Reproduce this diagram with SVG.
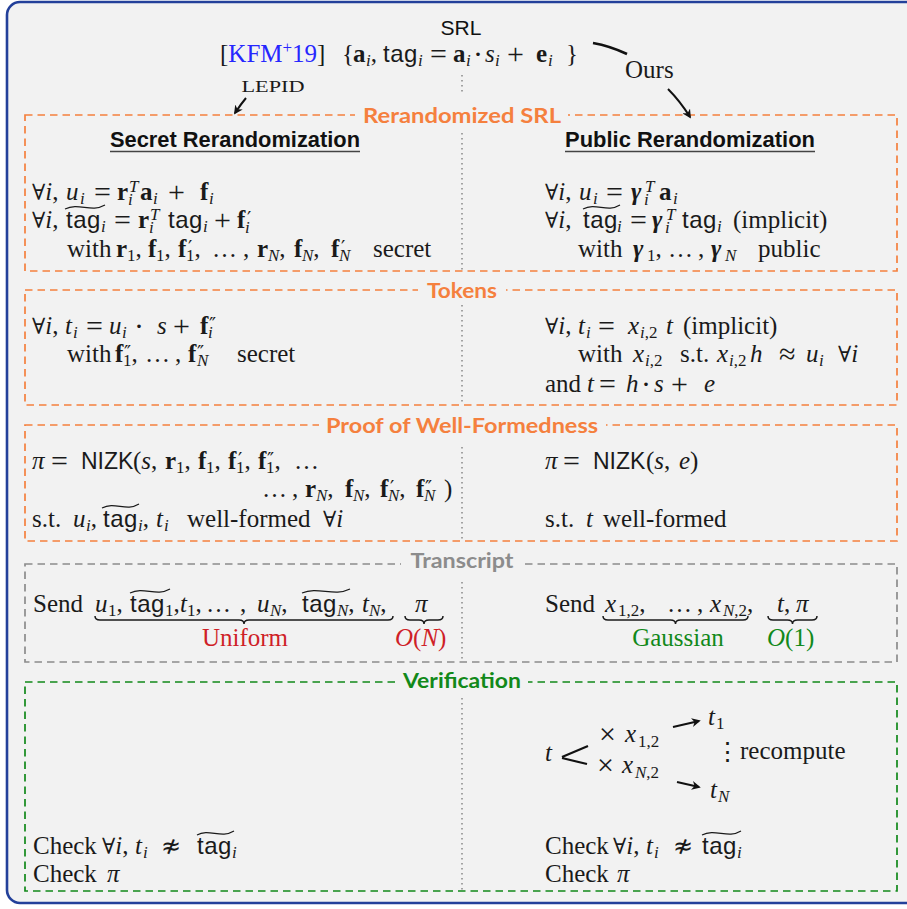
<svg xmlns="http://www.w3.org/2000/svg" width="907" height="909" viewBox="0 0 907 909">
<style>
.m{font-family:"Liberation Serif","DejaVu Serif",serif;font-size:25px;fill:#1a1a1a}
.i{font-style:italic}
.b{font-weight:bold}
.bi{font-weight:bold;font-style:italic}
.sf{font-family:"Liberation Sans",sans-serif;font-size:24px;letter-spacing:0.5px;font-style:normal;font-weight:normal}
.nz{font-family:"Liberation Sans",sans-serif;font-size:23px;font-style:normal}
.s{font-size:17px}
.op{font-family:"Liberation Serif","DejaVu Serif",serif;font-size:30px;font-style:normal;font-weight:normal}
.fa{font-family:"DejaVu Serif",serif;font-size:22px;font-style:normal;font-weight:normal}
.ne{font-family:"DejaVu Sans",sans-serif;font-size:24px}
.pr{font-family:"DejaVu Sans",sans-serif;font-size:19px;font-style:normal;font-weight:normal}
.hd{font-family:"Liberation Sans",sans-serif;font-weight:bold;font-size:21.5px;fill:#111}
.lab{font-family:Lato,"Liberation Sans",sans-serif;font-weight:bold;font-size:21px;text-anchor:middle}
.box{fill:none;stroke-width:1.7;stroke-dasharray:7.5 5}
.or{stroke:#f5803e}
.gr{stroke:#8c8c8c}
.gn{stroke:#12891a}
.bg{fill:#f2f2f2}
.dot{stroke:#9a9a9a;stroke-width:1.8;stroke-dasharray:1.6 3.4;fill:none}
.tl{fill:none;stroke:#1a1a1a;stroke-width:1.2}
.br{fill:none;stroke:#1a1a1a;stroke-width:1.5}
.ar{fill:none;stroke:#111;stroke-width:2}
.red{fill:#cf1f28}
.grn{fill:#12891a}
</style>
<defs>
<marker id="ah" viewBox="0 0 10 10" refX="8" refY="5" markerWidth="9" markerHeight="9" markerUnits="userSpaceOnUse" orient="auto">
<path d="M0,0 L10,5 L0,10 L3,5 z" fill="#111"/>
</marker>
</defs>
<rect x="0" y="0" width="907" height="909" fill="#ffffff"/>
<rect id="frame" x="7" y="2" width="912" height="901" rx="13" fill="#f2f2f2" stroke="#23409a" stroke-width="2.6"/>

<g id="dotted-divider">
<line class="dot" x1="462" y1="75" x2="462" y2="93"/>
<line class="dot" x1="462" y1="133" x2="462" y2="271"/>
<line class="dot" x1="462" y1="305" x2="462" y2="405"/>
<line class="dot" x1="462" y1="447" x2="462" y2="541"/>
<line class="dot" x1="462" y1="582" x2="462" y2="662"/>
<line class="dot" x1="462" y1="698" x2="462" y2="890"/>
</g>

<g id="header">
<text x="461" y="35" font-family="Liberation Sans,sans-serif" font-size="21" fill="#111" text-anchor="middle">SRL</text>
<text class="m">
<tspan x="342" y="62">{</tspan><tspan x="353" y="62" class="b">a</tspan><tspan x="366" y="66" class="i s">i</tspan><tspan y="62">,</tspan>
<tspan x="383" y="62" class="sf">tag</tspan><tspan x="418" y="66" class="i s">i</tspan>
<tspan x="430" y="64" class="op">=</tspan><tspan x="453" y="62" class="b">a</tspan><tspan x="466" y="66" class="i s">i</tspan>
<tspan x="473" y="64" class="op">·</tspan><tspan x="485" y="62" class="i">s</tspan><tspan x="495" y="66" class="i s">i</tspan>
<tspan x="507" y="64" class="op">+</tspan><tspan x="536" y="62" class="b">e</tspan><tspan x="548" y="66" class="i s">i</tspan><tspan x="566" y="62">}</tspan>
</text>
</g>

<g id="lepid">
<text class="m" x="220" y="62">[<tspan fill="#2626ff">KFM</tspan><tspan fill="#2626ff" font-size="17" y="53">+</tspan><tspan fill="#2626ff" y="62" x="292">19</tspan>]</text>
<text x="273" y="92" font-family="Liberation Serif,serif" font-size="17" fill="#1a1a1a" text-anchor="middle" textLength="63" lengthAdjust="spacingAndGlyphs">LEPID</text>
</g>

<g id="ours">
<text class="m" x="625" y="78">Ours</text>
</g>

<g id="box-rerand">
<rect class="box or" x="25" y="115" width="872" height="156"/>
<rect class="bg" x="355" y="104" width="213" height="26"/>
<text class="lab" x="462" y="123" fill="#f5803e" textLength="198" lengthAdjust="spacingAndGlyphs">Rerandomized SRL</text>
<text class="hd" x="110" y="147" textLength="250" lengthAdjust="spacingAndGlyphs">Secret Rerandomization</text>
<line x1="110" y1="151.5" x2="360" y2="151.5" stroke="#444" stroke-width="1.6"/>
<text class="hd" x="565" y="147" textLength="250" lengthAdjust="spacingAndGlyphs">Public Rerandomization</text>
<line x1="565" y1="151.5" x2="815" y2="151.5" stroke="#444" stroke-width="1.6"/>
<text class="m">
<tspan x="32" y="200" class="fa">∀</tspan><tspan class="i">i</tspan><tspan>,</tspan>
<tspan x="66" y="200" class="i">u</tspan><tspan x="80" y="204" class="i s">i</tspan>
<tspan x="94" y="202" class="op">=</tspan>
<tspan x="117" y="200" class="b">r</tspan><tspan x="128" y="205" class="i s">i</tspan><tspan x="129" y="192" class="i s">T</tspan>
<tspan x="140" y="200" class="b">a</tspan><tspan x="153" y="204" class="i s">i</tspan>
<tspan x="168" y="202" class="op">+</tspan>
<tspan x="200" y="200" class="b">f</tspan><tspan x="209" y="204" class="i s">i</tspan>
</text>
<text class="m">
<tspan x="32" y="228" class="fa">∀</tspan><tspan class="i">i</tspan><tspan>,</tspan>
<tspan x="66" y="228" class="sf">tag</tspan><tspan x="101" y="232" class="i s">i</tspan>
<tspan x="114" y="230" class="op">=</tspan>
<tspan x="138" y="228" class="b">r</tspan><tspan x="149" y="233" class="i s">i</tspan><tspan x="150" y="220" class="i s">T</tspan>
<tspan x="168" y="228" class="sf">tag</tspan><tspan x="203" y="232" class="i s">i</tspan>
<tspan x="214" y="230" class="op">+</tspan>
<tspan x="237" y="228" class="b">f</tspan><tspan x="247" y="225" class="pr">′</tspan><tspan x="245" y="233" class="i s">i</tspan>
</text>
<path class="tl" d="M65,209 C79,202 91,213 105,205"/>
<text class="m">
<tspan x="67" y="257">with</tspan>
<tspan x="116" y="257" class="b">r</tspan><tspan x="127" y="261" class="s">1</tspan><tspan y="257">,</tspan>
<tspan x="148" y="257" class="b">f</tspan><tspan x="156" y="261" class="s">1</tspan><tspan y="257">,</tspan>
<tspan x="178" y="257" class="b">f</tspan><tspan x="188" y="254" class="pr">′</tspan><tspan x="186" y="261" class="s">1</tspan><tspan y="257">,</tspan>
<tspan x="212" y="257">…</tspan><tspan x="243" y="257">,</tspan>
<tspan x="257" y="257" class="b">r</tspan><tspan x="268" y="261" class="i s">N</tspan><tspan y="257">,</tspan>
<tspan x="294" y="257" class="b">f</tspan><tspan x="302" y="261" class="i s">N</tspan><tspan y="257">,</tspan>
<tspan x="331" y="257" class="b">f</tspan><tspan x="341" y="254" class="pr">′</tspan><tspan x="339" y="261" class="i s">N</tspan>
<tspan x="373" y="257">secret</tspan>
</text>
<text class="m">
<tspan x="545" y="200" class="fa">∀</tspan><tspan class="i">i</tspan><tspan>,</tspan>
<tspan x="579" y="200" class="i">u</tspan><tspan x="593" y="204" class="i s">i</tspan>
<tspan x="606" y="202" class="op">=</tspan>
<tspan x="631" y="200" class="bi">γ</tspan><tspan x="644" y="205" class="i s">i</tspan><tspan x="645" y="192" class="i s">T</tspan>
<tspan x="659" y="200" class="b">a</tspan><tspan x="673" y="204" class="i s">i</tspan>
</text>
<text class="m">
<tspan x="545" y="228" class="fa">∀</tspan><tspan class="i">i</tspan><tspan>,</tspan>
<tspan x="583" y="228" class="sf">tag</tspan><tspan x="617" y="232" class="i s">i</tspan>
<tspan x="630" y="230" class="op">=</tspan>
<tspan x="652" y="228" class="bi">γ</tspan><tspan x="665" y="233" class="i s">i</tspan><tspan x="666" y="220" class="i s">T</tspan>
<tspan x="682" y="228" class="sf">tag</tspan><tspan x="717" y="232" class="i s">i</tspan>
<tspan x="733" y="228">(implicit)</tspan>
</text>
<path class="tl" d="M583,209 C596,202 607,213 620,205"/>
<text class="m">
<tspan x="578" y="257">with</tspan>
<tspan x="633" y="257" class="bi">γ</tspan><tspan x="647" y="261" class="s">1</tspan><tspan y="257">,</tspan>
<tspan x="668" y="257">…</tspan><tspan x="698" y="257">,</tspan>
<tspan x="711" y="257" class="bi">γ</tspan><tspan x="725" y="261" class="i s">N</tspan>
<tspan x="758" y="257">public</tspan>
</text>
</g>

<g id="box-tokens">
<rect class="box or" x="25" y="290" width="872" height="115"/>
<rect class="bg" x="418" y="280" width="88" height="24"/>
<text class="lab" x="462" y="298" fill="#f5803e" textLength="70" lengthAdjust="spacingAndGlyphs">Tokens</text>
<text class="m">
<tspan x="32" y="334" class="fa">∀</tspan><tspan class="i">i</tspan><tspan>,</tspan>
<tspan x="65" y="334" class="i">t</tspan><tspan x="73" y="338" class="i s">i</tspan>
<tspan x="86" y="336" class="op">=</tspan>
<tspan x="109" y="334" class="i">u</tspan><tspan x="122" y="338" class="i s">i</tspan>
<tspan x="134" y="336" class="op">·</tspan>
<tspan x="157" y="334" class="i">s</tspan>
<tspan x="173" y="336" class="op">+</tspan>
<tspan x="200" y="334" class="b">f</tspan><tspan x="209" y="331" class="pr">″</tspan><tspan x="208" y="338" class="i s">i</tspan>
</text>
<text class="m">
<tspan x="67" y="362">with</tspan>
<tspan x="115" y="362" class="b">f</tspan><tspan x="124" y="359" class="pr">″</tspan><tspan x="123" y="366" class="s">1</tspan><tspan y="362">,</tspan>
<tspan x="145" y="362">…</tspan><tspan x="175" y="362">,</tspan>
<tspan x="188" y="362" class="b">f</tspan><tspan x="197" y="359" class="pr">″</tspan><tspan x="197" y="366" class="i s">N</tspan>
<tspan x="237" y="362">secret</tspan>
</text>
<text class="m">
<tspan x="545" y="334" class="fa">∀</tspan><tspan class="i">i</tspan><tspan>,</tspan>
<tspan x="578" y="334" class="i">t</tspan><tspan x="586" y="338" class="i s">i</tspan>
<tspan x="598" y="336" class="op">=</tspan>
<tspan x="628" y="334" class="i">x</tspan><tspan x="640" y="338" class="s"><tspan class="i">i</tspan>,2</tspan>
<tspan x="666" y="334" class="i">t</tspan>
<tspan x="683" y="334">(implicit)</tspan>
</text>
<text class="m">
<tspan x="578" y="362">with</tspan>
<tspan x="633" y="362" class="i">x</tspan><tspan x="645" y="366" class="s"><tspan class="i">i</tspan>,2</tspan>
<tspan x="680" y="362">s.t.</tspan>
<tspan x="717" y="362" class="i">x</tspan><tspan x="729" y="366" class="s"><tspan class="i">i</tspan>,2</tspan>
<tspan x="750" y="362" class="i">h</tspan>
<tspan x="779" y="364" class="op">≈</tspan>
<tspan x="806" y="362" class="i">u</tspan><tspan x="819" y="366" class="i s">i</tspan>
<tspan x="838" y="362" class="fa">∀</tspan><tspan class="i">i</tspan>
</text>
<text class="m">
<tspan x="545" y="392">and</tspan>
<tspan x="587" y="392" class="i">t</tspan>
<tspan x="599" y="394" class="op">=</tspan>
<tspan x="626" y="392" class="i">h</tspan>
<tspan x="641" y="394" class="op">·</tspan>
<tspan x="654" y="392" class="i">s</tspan>
<tspan x="671" y="394" class="op">+</tspan>
<tspan x="704" y="392" class="i">e</tspan>
</text>
</g>

<g id="box-proof">
<rect class="box or" x="25" y="425" width="872" height="116"/>
<rect class="bg" x="319" y="414" width="287" height="25"/>
<text class="lab" x="462" y="433" fill="#f5803e" textLength="272" lengthAdjust="spacingAndGlyphs">Proof of Well-Formedness</text>
<text class="m">
<tspan x="32" y="469" class="i">π</tspan>
<tspan x="51" y="471" class="op">=</tspan>
<tspan x="81" y="469" class="nz">NIZK</tspan>
<tspan x="133" y="469">(</tspan><tspan class="i">s</tspan><tspan>,</tspan>
<tspan x="165" y="469" class="b">r</tspan><tspan x="176" y="473" class="s">1</tspan><tspan y="469">,</tspan>
<tspan x="198" y="469" class="b">f</tspan><tspan x="206" y="473" class="s">1</tspan><tspan y="469">,</tspan>
<tspan x="228" y="469" class="b">f</tspan><tspan x="238" y="466" class="pr">′</tspan><tspan x="236" y="473" class="s">1</tspan><tspan y="469">,</tspan>
<tspan x="258" y="469" class="b">f</tspan><tspan x="267" y="466" class="pr">″</tspan><tspan x="266" y="473" class="s">1</tspan><tspan y="469">,</tspan>
<tspan x="294" y="469">…</tspan>
</text>
<text class="m">
<tspan x="262" y="497">…</tspan><tspan x="292" y="497">,</tspan>
<tspan x="305" y="497" class="b">r</tspan><tspan x="316" y="501" class="i s">N</tspan><tspan y="497">,</tspan>
<tspan x="345" y="497" class="b">f</tspan><tspan x="353" y="501" class="i s">N</tspan><tspan y="497">,</tspan>
<tspan x="380" y="497" class="b">f</tspan><tspan x="390" y="494" class="pr">′</tspan><tspan x="388" y="501" class="i s">N</tspan><tspan y="497">,</tspan>
<tspan x="416" y="497" class="b">f</tspan><tspan x="425" y="494" class="pr">″</tspan><tspan x="424" y="501" class="i s">N</tspan>
<tspan x="444" y="497">)</tspan>
</text>
<text class="m">
<tspan x="32" y="527">s.t.</tspan>
<tspan x="73" y="527" class="i">u</tspan><tspan x="86" y="531" class="i s">i</tspan><tspan y="527">,</tspan>
<tspan x="103" y="527" class="sf">tag</tspan><tspan x="138" y="531" class="i s">i</tspan><tspan y="527">,</tspan>
<tspan x="156" y="527" class="i">t</tspan><tspan x="164" y="531" class="i s">i</tspan>
<tspan x="187" y="527">well-formed</tspan>
<tspan x="323" y="527" class="fa">∀</tspan><tspan class="i">i</tspan>
</text>
<path class="tl" d="M102,508 C115,501 126,512 139,504"/>
<text class="m">
<tspan x="545" y="469" class="i">π</tspan>
<tspan x="563" y="471" class="op">=</tspan>
<tspan x="593" y="469" class="nz">NIZK</tspan>
<tspan x="646" y="469">(</tspan><tspan class="i">s</tspan><tspan>,</tspan>
<tspan x="679" y="469" class="i">e</tspan><tspan>)</tspan>
</text>
<text class="m">
<tspan x="545" y="527">s.t.</tspan>
<tspan x="586" y="527" class="i">t</tspan>
<tspan x="603" y="527">well-formed</tspan>
</text>
</g>

<g id="box-transcript">
<rect class="box gr" x="25" y="564" width="872" height="98"/>
<rect class="bg" x="401" y="550" width="121" height="25"/>
<text class="lab" x="462" y="568" fill="#8c8c8c" textLength="103" lengthAdjust="spacingAndGlyphs">Transcript</text>
<text class="m">
<tspan x="33" y="612">Send</tspan>
<tspan x="95" y="612" class="i">u</tspan><tspan x="108" y="616" class="s">1</tspan><tspan y="612">,</tspan>
<tspan x="130" y="612" class="sf">tag</tspan><tspan x="165" y="616" class="s">1</tspan><tspan y="612">,</tspan>
<tspan x="180" y="612" class="i">t</tspan><tspan x="187" y="616" class="s">1</tspan><tspan y="612">,</tspan>
<tspan x="206" y="612">…</tspan><tspan x="240" y="612">,</tspan>
<tspan x="257" y="612" class="i">u</tspan><tspan x="270" y="616" class="i s">N</tspan><tspan y="612">,</tspan>
<tspan x="302" y="612" class="sf">tag</tspan><tspan x="337" y="616" class="i s">N</tspan><tspan y="612">,</tspan>
<tspan x="362" y="612" class="i">t</tspan><tspan x="369" y="616" class="i s">N</tspan><tspan y="612">,</tspan>
<tspan x="415" y="612" class="i">π</tspan>
</text>
<path class="tl" d="M130,593 C144,586 156,597 170,589"/>
<path class="tl" d="M302,593 C318,586 334,597 350,589"/>
<path class="br" d="M95,616 q0,4 5,4 H239 q5,0 5,4 q0,-4 5,-4 H388 q5,0 5,-4"/>
<path class="br" d="M405,616 q0,4 5,4 H419 q5,0 5,4 q0,-4 5,-4 H438 q5,0 5,-4"/>
<text class="m red" x="245" y="646" text-anchor="middle">Uniform</text>
<text class="m red" x="395" y="646"><tspan class="i">O</tspan>(<tspan class="i">N</tspan>)</text>
<text class="m">
<tspan x="545" y="612">Send</tspan>
<tspan x="605" y="612" class="i">x</tspan><tspan x="618" y="616" class="s">1,2</tspan><tspan y="612">,</tspan>
<tspan x="667" y="612">…</tspan><tspan x="697" y="612">,</tspan>
<tspan x="710" y="612" class="i">x</tspan><tspan x="723" y="616" class="s"><tspan class="i">N</tspan>,2</tspan><tspan y="612">,</tspan>
<tspan x="777" y="612" class="i">t</tspan><tspan>,</tspan>
<tspan x="796" y="612" class="i">π</tspan>
</text>
<path class="br" d="M603,616 q0,4 5,4 H670.5 q5,0 5,4 q0,-4 5,-4 H743 q5,0 5,-4"/>
<path class="br" d="M768,616 q0,4 5,4 H787.5 q5,0 5,4 q0,-4 5,-4 H812 q5,0 5,-4"/>
<text class="m grn" x="678" y="646" text-anchor="middle">Gaussian</text>
<text class="m grn" x="767" y="646"><tspan class="i">O</tspan>(1)</text>
</g>

<g id="box-verification">
<rect class="box gn" x="25" y="682" width="872" height="209"/>
<rect class="bg" x="396" y="670" width="132" height="25"/>
<text class="lab" x="462" y="688" fill="#12891a" textLength="118" lengthAdjust="spacingAndGlyphs">Verification</text>
<text class="m">
<tspan x="545" y="761" class="i">t</tspan>
<tspan x="599" y="744" class="op">×</tspan><tspan x="625" y="742" class="i">x</tspan><tspan x="638" y="747" class="s">1,2</tspan>
<tspan x="597" y="775" class="op">×</tspan><tspan x="622" y="773" class="i">x</tspan><tspan x="635" y="778" class="s"><tspan class="i">N</tspan>,2</tspan>
<tspan x="708" y="725" class="i">t</tspan><tspan x="716" y="729" class="s">1</tspan>
<tspan x="710" y="798" class="i">t</tspan><tspan x="718" y="802" class="i s">N</tspan>
<tspan x="715" y="760">⋮</tspan>
<tspan x="740" y="759">recompute</tspan>
</text>
<path d="M562,757 L588,746 M562,758 L587,764" fill="none" stroke="#111" stroke-width="2.2"/>
<text class="m">
<tspan x="33" y="854">Check</tspan>
<tspan x="102" y="854" class="fa">∀</tspan><tspan class="i">i</tspan><tspan>,</tspan>
<tspan x="135" y="854" class="i">t</tspan><tspan x="143" y="858" class="i s">i</tspan>
<tspan x="161" y="854" class="ne">≉</tspan>
<tspan x="197" y="854" class="sf">tag</tspan><tspan x="232" y="858" class="i s">i</tspan>
</text>
<path class="tl" d="M197,835 C209,828 221,839 234,831"/>
<text class="m">
<tspan x="33" y="882">Check</tspan>
<tspan x="107" y="882" class="i">π</tspan>
</text>
<text class="m">
<tspan x="545" y="854">Check</tspan>
<tspan x="613" y="854" class="fa">∀</tspan><tspan class="i">i</tspan><tspan>,</tspan>
<tspan x="646" y="854" class="i">t</tspan><tspan x="654" y="858" class="i s">i</tspan>
<tspan x="673" y="854" class="ne">≉</tspan>
<tspan x="702" y="854" class="sf">tag</tspan><tspan x="737" y="858" class="i s">i</tspan>
</text>
<path class="tl" d="M702,835 C715,828 728,839 741,831"/>
<text class="m">
<tspan x="545" y="882">Check</tspan>
<tspan x="617" y="882" class="i">π</tspan>
</text>
</g>

<g id="connectors">
<path class="ar" d="M246,98 Q241,104 235,113" marker-end="url(#ah)"/>
<path d="M593,43 Q610,46 627,54" fill="none" stroke="#111" stroke-width="2.6"/>
<path class="ar" d="M668,89 Q680,101 690,117" marker-end="url(#ah)"/>
<path class="ar" d="M673,727 L699,721" stroke-width="1.8" marker-end="url(#ah)"/>
<path class="ar" d="M677,782 L699,787" stroke-width="1.8" marker-end="url(#ah)"/>
</g>
</svg>
